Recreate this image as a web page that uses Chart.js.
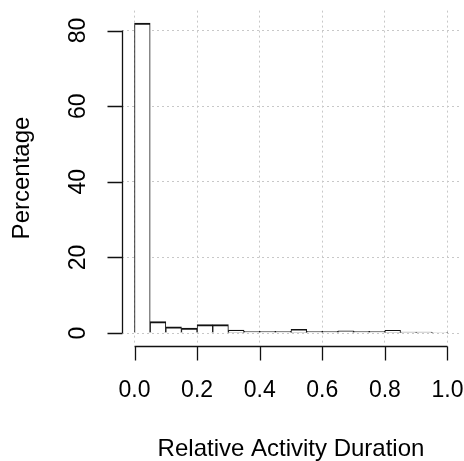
<!DOCTYPE html>
<html lang="en">
<head>
    <meta charset="UTF-8">
    <title>Relative Activity Duration</title>
    <script src="https://cdn.jsdelivr.net/npm/chart.js"></script>
    <style>
        body { margin: 0; background: #fff; }
        canvas { display: block; }
    </style>
</head>
<body>
    <canvas id="histChart" width="464" height="461"></canvas>
    <script>
        // histogram bins (width 0.05) and share of activities in each, in %
        const breaks = [0.00, 0.05, 0.10, 0.15, 0.20, 0.25, 0.30, 0.35, 0.40, 0.45, 0.50,
                        0.55, 0.60, 0.65, 0.70, 0.75, 0.80, 0.85, 0.90, 0.95, 1.00];
        const percent = [82.0, 3.0, 1.6, 1.3, 2.2, 2.2, 0.8, 0.45, 0.45, 0.45,
                         1.0, 0.45, 0.45, 0.55, 0.45, 0.45, 0.7, 0.25, 0.25, 0.2];
        const xTicks = [0.0, 0.2, 0.4, 0.6, 0.8, 1.0];
        const yTicks = [0, 20, 40, 60, 80];
        const xLabel = 'Relative Activity Duration';
        const yLabel = 'Percentage';

        const font = '"Liberation Sans", Arial, sans-serif';
        const ink = '#111';

        const bars = percent.map((p, i) => ({ x: (breaks[i] + breaks[i + 1]) / 2, y: p }));

        // axes, ticks and titles drawn the base-graphics way (no box)
        const axesPlugin = {
            id: 'axesPlugin',
            afterDraw(chart) {
                const c = chart.ctx;
                const xs = chart.scales.x, ys = chart.scales.y;
                const area = chart.chartArea;
                c.save();
                c.strokeStyle = ink;
                c.fillStyle = '#000';
                c.lineWidth = 1.3;

                // x axis
                const xy = Math.round(area.bottom + 1) + 0.5;
                const x0 = xs.getPixelForValue(xTicks[0]);
                const x1 = xs.getPixelForValue(xTicks[xTicks.length - 1]);
                c.beginPath();
                c.moveTo(x0, xy); c.lineTo(x1, xy);
                xTicks.forEach(v => {
                    const px = Math.round(xs.getPixelForValue(v)) + 0.5;
                    c.moveTo(px, xy); c.lineTo(px, xy + 14);
                });
                c.stroke();
                c.font = '23px ' + font;
                c.textAlign = 'center';
                c.textBaseline = 'middle';
                xTicks.forEach(v => c.fillText(v.toFixed(1), xs.getPixelForValue(v), 391));

                // y axis
                const yx = Math.round(area.left) + 0.5;
                const y0 = ys.getPixelForValue(yTicks[0]);
                const y1 = ys.getPixelForValue(yTicks[yTicks.length - 1]);
                c.beginPath();
                c.moveTo(yx, y0); c.lineTo(yx, y1);
                yTicks.forEach(v => {
                    const py = Math.round(ys.getPixelForValue(v)) + 0.5;
                    c.moveTo(yx, py); c.lineTo(yx - 15, py);
                });
                c.stroke();
                yTicks.forEach(v => {
                    c.save();
                    c.translate(79, ys.getPixelForValue(v));
                    c.rotate(-Math.PI / 2);
                    c.fillText(String(v), 0, 0);
                    c.restore();
                });

                // titles
                c.font = '24px ' + font;
                c.fillText(xLabel, (area.left + area.right) / 2, 449);
                c.save();
                c.translate(22, (area.top + area.bottom) / 2);
                c.rotate(-Math.PI / 2);
                c.fillText(yLabel, 0, 0);
                c.restore();
                c.restore();
            }
        };

        const gridOpts = {
            color: '#c8c8c8',
            lineWidth: 1,
            drawTicks: false,
            offset: false
        };

        new Chart(document.getElementById('histChart').getContext('2d'), {
            type: 'bar',
            data: {
                datasets: [{
                    data: bars,
                    backgroundColor: '#ffffff',
                    borderColor: ink,
                    // neighbouring bars share an edge, so left/right stay thin
                    borderWidth: { top: 2, left: 1, right: 1, bottom: 0 },
                    borderSkipped: false,
                    barPercentage: 1,
                    categoryPercentage: 1
                }]
            },
            options: {
                responsive: false,
                animation: false,
                devicePixelRatio: 1,
                layout: { padding: { left: 122, right: 4, top: 10.6, bottom: 115.6 } },
                plugins: { legend: { display: false }, tooltip: { enabled: false } },
                scales: {
                    x: {
                        type: 'linear',
                        offset: false,
                        min: -0.04,
                        max: 1.04,
                        z: 1,
                        afterBuildTicks: s => { s.ticks = xTicks.map(v => ({ value: v })); },
                        afterFit: s => { s.height = 0; },
                        ticks: { display: false },
                        grid: gridOpts,
                        border: { display: false, dash: [2, 3] }
                    },
                    y: {
                        min: -3.28,
                        max: 85.28,
                        z: 1,
                        afterBuildTicks: s => { s.ticks = yTicks.map(v => ({ value: v })); },
                        afterFit: s => { s.width = 0; },
                        ticks: { display: false },
                        grid: gridOpts,
                        border: { display: false, dash: [2, 3] }
                    }
                }
            },
            plugins: [axesPlugin]
        });
    </script>
</body>
</html>
